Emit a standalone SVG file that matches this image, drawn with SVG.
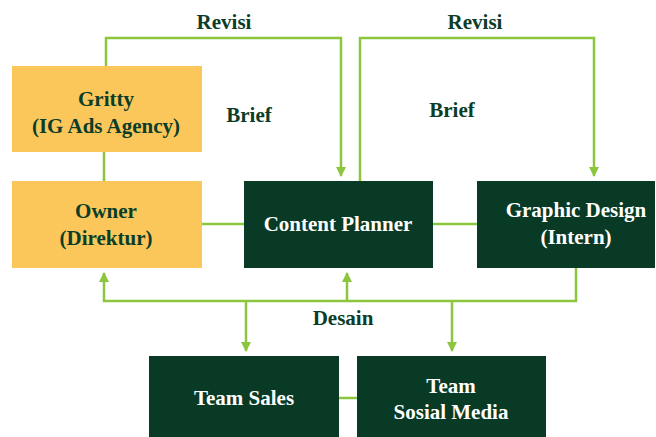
<svg xmlns="http://www.w3.org/2000/svg" width="656" height="437" viewBox="0 0 656 437">
<defs>
<marker id="ah" viewBox="0 0 10 10" refX="9" refY="5" markerWidth="4" markerHeight="4" orient="auto" markerUnits="strokeWidth">
<path d="M0,0 L10,5 L0,10 Z" fill="#8cc63f"/>
</marker>
</defs>
<rect width="656" height="437" fill="#ffffff"/>
<g id="connectors" fill="none" stroke="#8cc63f" stroke-width="2.5">
<polyline points="106,66 106,38 341,38 341,176" marker-end="url(#ah)"/>
<polyline points="360,181 360,38 594,38 594,176" marker-end="url(#ah)"/>
<line x1="104" y1="152" x2="104" y2="181"/>
<line x1="201" y1="224" x2="244" y2="224"/>
<line x1="433" y1="224" x2="477" y2="224"/>
<polyline points="576,268 576,301 104,301 104,273" marker-end="url(#ah)"/>
<polyline points="347,301 347,273" marker-end="url(#ah)"/>
<polyline points="246,301 246,351" marker-end="url(#ah)"/>
<polyline points="452,301 452,351" marker-end="url(#ah)"/>
<line x1="339" y1="398" x2="357" y2="398"/>
</g>
<g id="labels" fill="#0b3d28" stroke="none">
<text x="224" y="29" font-family="Liberation Serif" font-weight="bold" font-size="21" text-anchor="middle">Revisi</text>
<text x="475" y="29" font-family="Liberation Serif" font-weight="bold" font-size="21" text-anchor="middle">Revisi</text>
<text x="249" y="122" font-family="Liberation Serif" font-weight="bold" font-size="21" text-anchor="middle">Brief</text>
<text x="452" y="117" font-family="Liberation Serif" font-weight="bold" font-size="21" text-anchor="middle">Brief</text>
<text x="343" y="325" font-family="Liberation Serif" font-weight="bold" font-size="21" text-anchor="middle">Desain</text>
</g>
<g id="gritty">
<rect fill="#fbc75b" x="12" y="66" width="190" height="86"/>
<text fill="#0b3d28" x="106" y="106" font-family="Liberation Serif" font-weight="bold" font-size="21" text-anchor="middle">Gritty</text>
<text fill="#0b3d28" x="106" y="133" font-family="Liberation Serif" font-weight="bold" font-size="21" text-anchor="middle">(IG Ads Agency)</text>
</g>
<g id="owner">
<rect fill="#fbc75b" x="12" y="181" width="190" height="87"/>
<text fill="#0b3d28" x="106" y="218" font-family="Liberation Serif" font-weight="bold" font-size="21" text-anchor="middle">Owner</text>
<text fill="#0b3d28" x="106" y="245" font-family="Liberation Serif" font-weight="bold" font-size="21" text-anchor="middle">(Direktur)</text>
</g>
<g id="content-planner">
<rect fill="#083a26" x="244" y="181" width="189" height="87"/>
<text fill="#ffffff" x="338" y="231" font-family="Liberation Serif" font-weight="bold" font-size="21" text-anchor="middle">Content Planner</text>
</g>
<g id="graphic-design">
<rect fill="#083a26" x="477" y="181" width="178" height="87"/>
<text fill="#ffffff" x="576" y="217" font-family="Liberation Serif" font-weight="bold" font-size="21" text-anchor="middle">Graphic Design</text>
<text fill="#ffffff" x="576" y="244" font-family="Liberation Serif" font-weight="bold" font-size="21" text-anchor="middle">(Intern)</text>
</g>
<g id="team-sales">
<rect fill="#083a26" x="149" y="356" width="190" height="81"/>
<text fill="#ffffff" x="244" y="405" font-family="Liberation Serif" font-weight="bold" font-size="21" text-anchor="middle">Team Sales</text>
</g>
<g id="team-sosmed">
<rect fill="#083a26" x="357" y="356" width="189" height="81"/>
<text fill="#ffffff" x="451" y="393" font-family="Liberation Serif" font-weight="bold" font-size="21" text-anchor="middle">Team</text>
<text fill="#ffffff" x="451" y="419" font-family="Liberation Serif" font-weight="bold" font-size="21" text-anchor="middle">Sosial Media</text>
</g>
</svg>
